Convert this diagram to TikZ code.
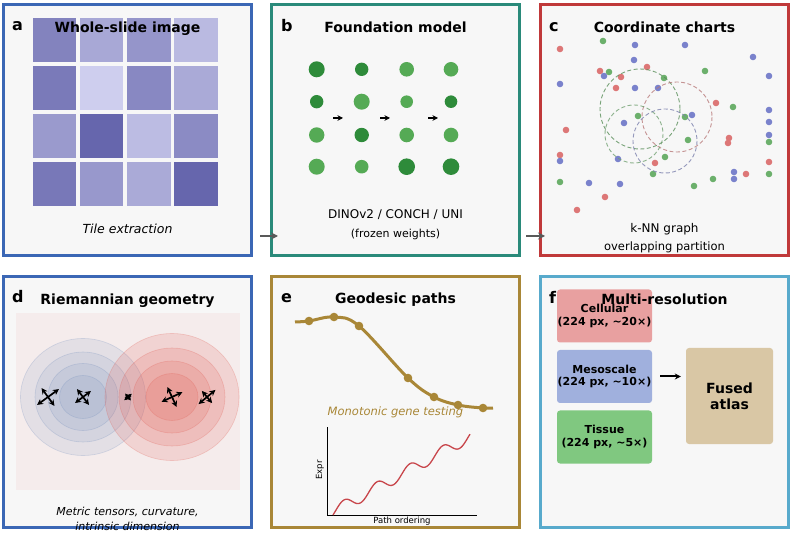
\documentclass[tikz,border=0pt]{standalone}
\usepackage{fontspec}
\setmainfont{DejaVu Sans}
\usetikzlibrary{arrows.meta,positioning,calc}

\definecolor{panelbg}{RGB}{247,247,247}
\definecolor{frameblue}{RGB}{59,103,181}
\definecolor{frameteal}{RGB}{42,138,122}
\definecolor{framered}{RGB}{192,57,58}
\definecolor{framegold}{RGB}{169,135,55}
\definecolor{framesky}{RGB}{88,170,204}
\definecolor{tilebase}{RGB}{90,90,165}
\definecolor{tilelight}{RGB}{225,225,250}
\definecolor{darkleaf}{RGB}{46,139,58}
\definecolor{lightleaf}{RGB}{85,170,85}
\definecolor{dotred}{RGB}{221,119,119}
\definecolor{dotblue}{RGB}{122,130,204}
\definecolor{dotgreen}{RGB}{108,176,108}
\definecolor{pinkbg}{RGB}{245,236,236}
\definecolor{wellblue}{RGB}{105,135,185}
\definecolor{wellred}{RGB}{225,85,75}
\definecolor{curvered}{RGB}{200,70,75}
\definecolor{cellred}{RGB}{232,160,160}
\definecolor{mesoblue}{RGB}{160,176,221}
\definecolor{tissuegreen}{RGB}{128,200,128}
\definecolor{fusedtan}{RGB}{217,199,165}

\tikzset{
  panel/.style={draw=#1,line width=3pt,fill=panelbg,minimum width=248pt,minimum height=251pt,inner sep=0pt},
  plabel/.style={font=\bfseries\fontsize{16}{18}\selectfont,anchor=base west,inner sep=0pt},
  ptitle/.style={font=\bfseries\fontsize{14}{16}\selectfont,anchor=base,inner sep=0pt},
  note/.style={font=\fontsize{12}{14}\selectfont,anchor=base,inner sep=0pt},
  flow/.style={->,>={Stealth[length=7pt,width=7pt]},draw=black!65,line width=1.3pt},
  tensor/.style={{Stealth[length=6pt,width=6pt]}-{Stealth[length=6pt,width=6pt]},line width=1.7pt},
  scalebox/.style={fill=#1,rounded corners=3pt,minimum width=95pt,minimum height=53pt,align=center,
    font=\bfseries\fontsize{11}{12.5}\selectfont,inner sep=0pt}
}

\newcommand{\tensorglyph}[5]{%
  \draw[tensor] ($(#1,#2)+(#3:#4pt)$) -- ($(#1,#2)-(#3:#4pt)$);
  \draw[tensor] ($(#1,#2)+(#3+90:#5pt)$) -- ($(#1,#2)-(#3+90:#5pt)$);}

\begin{document}
\begin{tikzpicture}[x=1pt,y=-1pt]
\useasboundingbox (0,0) rectangle (793,537);

\node[panel=frameblue] (pa) at (127.5,130) {};
\node[panel=frameteal] (pb) at (395.5,130) {};
\node[panel=framered]  (pc) at (664.5,130) {};
\node[panel=frameblue] (pd) at (127.5,402) {};
\node[panel=framegold] (pe) at (395.5,402) {};
\node[panel=framesky]  (pf) at (664.5,402) {};

\draw[flow] ($(pa.east)+(7,106)$) -- ($(pb.west)+(8,106)$);
\draw[flow] ($(pb.east)+(5,106)$) -- ($(pc.west)+(6,106)$);

% a
\foreach \p [count=\i from 0] in {70,42,56,29,76,14,66,41,53,91,27,64,78,54,41,91}
  \fill[tilebase!\p!tilelight] ({32.7+47.2*mod(\i,4)},{18.3+48*int(\i/4)}) rectangle ++(43.4,43.4);
\node[plabel] (la) at (12,30.7) {a};
\node[ptitle] (ta) at (127.5,32.5) {Whole-slide image};
\node[note,font=\itshape\fontsize{12.5}{14}\selectfont] (na) at (127.5,233.3) {Tile extraction};

% b
\foreach \x/\y/\r/\c in {316.7/69.3/8/darkleaf, 361.7/69.3/6.7/darkleaf, 406.7/69.3/7.3/lightleaf, 451/69.3/7.3/lightleaf,
  316.7/101.7/6.7/darkleaf, 361.7/101.7/8/lightleaf, 406.7/101.7/6.3/lightleaf, 451/101.7/6.3/darkleaf,
  316.7/135/7.7/lightleaf, 361.7/135/7.2/darkleaf, 406.7/135/7.3/lightleaf, 451/135/7.3/lightleaf,
  316.7/166.7/8/lightleaf, 361.7/166.7/6.8/lightleaf, 406.7/166.7/8.3/darkleaf, 451/166.7/8.3/darkleaf}
  \fill[\c] (\x,\y) circle[radius=\r];
\foreach \x in {333,380,428}
  \draw[->,>={Stealth[length=5.5pt,width=5.5pt]},line width=1.4pt] (\x,118) -- ++(10,0);
\node[plabel] (lb) at (281,31.7) {b};
\node[ptitle] (tb) at (395.5,32.3) {Foundation model};
\node[note] (nb1) at (395.5,219) {DINOv2 / CONCH / UNI};
\node[note,font=\fontsize{11}{13}\selectfont] (nb2) at (395.5,237.5) {(frozen weights)};

% c
\foreach \x/\y/\c in {560/49/dotred, 603/41/dotgreen, 635/45/dotblue, 685/45/dotblue, 753/57/dotblue,
  634/60/dotblue, 600/71/dotred, 609/72/dotgreen, 604/76/dotblue, 647/67/dotred, 705/71/dotgreen,
  769/76/dotblue, 560/84/dotblue, 621/77/dotred, 664/78/dotgreen, 616/88/dotred, 635/88/dotblue,
  658/88/dotblue, 716/103/dotred, 733/107/dotgreen, 769/110/dotblue, 638/116/dotgreen, 685/117/dotgreen,
  692/115/dotblue, 769/122/dotblue, 624/123/dotblue, 566/130/dotred, 769/135/dotblue, 729/138/dotred,
  728/143/dotred, 769/142/dotgreen, 688/140/dotgreen, 560/155/dotred, 560/161/dotblue, 618/159/dotblue,
  665/157/dotgreen, 655/163/dotred, 769/162/dotred, 734/172/dotblue, 734/179/dotblue, 746/174/dotred,
  769/174/dotgreen, 653/174/dotgreen, 713/179/dotgreen, 694/186/dotgreen, 560/182/dotgreen,
  589/183/dotblue, 620/184/dotblue, 605/197/dotred, 577/210/dotred}
  \fill[\c] (\x,\y) circle[radius=3.3];
\foreach \x/\y/\r/\c in {640/109/40/{black!30!green!30!gray}, 677/117/35/{dotred!60!gray},
  634/134/29/{dotgreen!70!gray}, 665/141/32/{dotblue!60!gray}}
  \draw[\c,dash pattern=on 4pt off 2.5pt,line width=0.9pt,draw opacity=0.8] (\x,\y) circle[radius=\r];
\node[plabel] (lc) at (549,31.7) {c};
\node[ptitle] (tc) at (664.5,32.3) {Coordinate charts};
\node[note] (nc1) at (664.5,233) {k-NN graph};
\node[note,font=\fontsize{11.5}{13}\selectfont] (nc2) at (664.5,250.5) {overlapping partition};

% d
\fill[pinkbg] (16,313) rectangle (240,490);
\foreach \a/\b in {62.5/58.5,48/45,35/33.5,23.5/21.5}
  \filldraw[fill=wellblue,fill opacity=0.12,draw=wellblue,draw opacity=0.25,line width=0.6pt] (83,397) ellipse[x radius=\a,y radius=\b];
\foreach \a/\b in {67/63.5,53/49,39/36,26/23.5}
  \filldraw[fill=wellred,fill opacity=0.16,draw=wellred,draw opacity=0.25,line width=0.6pt] (172,397) ellipse[x radius=\a,y radius=\b];
\tensorglyph{48}{397}{36}{13.5}{11}
\tensorglyph{83}{397}{37}{10}{10}
\tensorglyph{128}{397}{40}{5}{4.5}
\tensorglyph{172}{397}{25}{11.5}{11}
\tensorglyph{207}{397}{40}{11}{8}
\node[plabel] (ld) at (12,303) {d};
\node[ptitle] (td) at (127.5,305) {Riemannian geometry};
\node[note,font=\itshape\fontsize{11}{13}\selectfont] (nd1) at (127.5,515.7) {Metric tensors, curvature,};
\node[note,font=\itshape\fontsize{11}{13}\selectfont] (nd2) at (127.5,530) {intrinsic dimension};

% e
\draw[framegold,line width=3pt] plot[smooth,tension=0.6] coordinates {(295,322) (309,321) (334,317) (359,326) (408,378) (434,397) (458,405) (483,408) (493,408)};
\foreach \x/\y in {309/321,334/317,359/326,408/378,434/397,458/405,483/408}
  \fill[framegold] (\x,\y) circle[radius=4.3];
\node[note,font=\itshape\fontsize{11.5}{13}\selectfont,text=framegold] (ne) at (395.5,415) {Monotonic gene testing};
\draw[line width=0.6pt] (327,427) -- (327,515) -- (477,515);
\draw[curvered,line width=1.3pt] plot[domain=333:470,samples=120] (\x,{512-0.55*(\x-333)-6*sin(deg(2*pi*(\x-333)/33)-30)});
\node[font=\fontsize{8.5}{10}\selectfont,rotate=90,inner sep=0pt] (ey) at (320,470) {Expr};
\node[font=\fontsize{8.5}{10}\selectfont,inner sep=0pt] (ex) at (402,521.5) {Path ordering};
\node[plabel] (le) at (281,303) {e};
\node[ptitle] (te) at (395.5,304) {Geodesic paths};

% f
\node[scalebox=cellred] (cell) at (604.5,316) {Cellular\\(224 px, \textasciitilde 20×)};
\node[scalebox=mesoblue] (meso) at (604.5,376.5) {Mesoscale\\(224 px, \textasciitilde 10×)};
\node[scalebox=tissuegreen] (tiss) at (604.5,437) {Tissue\\(224 px, \textasciitilde 5×)};
\node[scalebox=fusedtan,minimum width=87pt,minimum height=96pt,font=\bfseries\fontsize{14}{16}\selectfont] (fused) at (729.5,396) {Fused\\atlas};
\draw[->,>={Stealth[length=6pt,width=6pt]},line width=2pt,shorten <=8pt,shorten >=5pt] (meso.east) -- (meso.east -| fused.west);
\node[plabel] (lf) at (549,304) {f};
\node[ptitle] (tf) at (664.5,305) {Multi-resolution};
\end{tikzpicture}
\end{document}
